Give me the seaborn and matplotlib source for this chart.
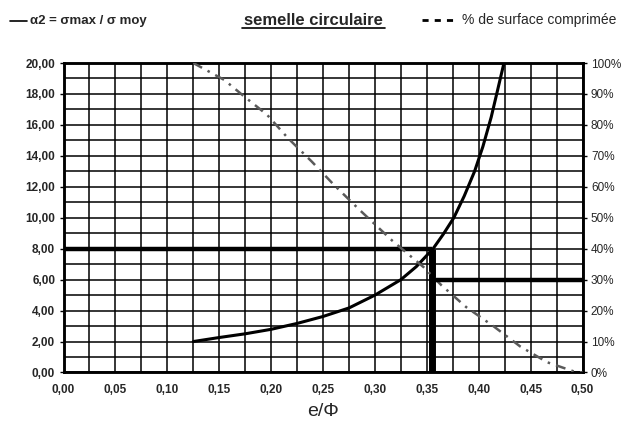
import numpy as np
import pandas as pd
import matplotlib
matplotlib.use("Agg")
import matplotlib.pyplot as plt
import seaborn as sns
from matplotlib.lines import Line2D

# ---- data ----
e_alpha = [0.125, 0.15, 0.175, 0.2, 0.225, 0.25, 0.275, 0.3, 0.325, 0.34, 0.356,
           0.366, 0.376, 0.386, 0.396, 0.404, 0.412, 0.418, 0.4243]
alpha2 = [2.0, 2.26, 2.5, 2.79, 3.17, 3.62, 4.17, 5.0, 6.0, 6.85, 8.0,
          8.95, 10.0, 11.4, 13.0, 14.6, 16.5, 18.2, 20.0]

e_pct = [0.125, 0.155, 0.174, 0.196, 0.216, 0.239, 0.260, 0.285, 0.317, 0.347,
         0.364, 0.388, 0.414, 0.440, 0.466, 0.492, 0.5]
pct_surface = [100, 94.5, 89.2, 83.3, 75.8, 68.2, 60.8, 52.6, 42.5, 34,
               28.2, 21.1, 15, 8.4, 3.3, 0.3, 0]

e_ref = 0.355
alpha_ref = 8.0
pct_ref = 30.0

x_ticks = [0.00, 0.05, 0.10, 0.15, 0.20, 0.25, 0.30, 0.35, 0.40, 0.45, 0.50]
y_ticks = [0, 2, 4, 6, 8, 10, 12, 14, 16, 18, 20]
pct_ticks = [0, 10, 20, 30, 40, 50, 60, 70, 80, 90, 100]

title = "semelle circulaire"
legend_alpha = "α2 = σmax / σ moy"
legend_pct = "% de surface comprimée"
x_label = "e/Φ"

sns.set_style("white")
plt.rcParams['font.family'] = ['Liberation Sans', 'DejaVu Sans']

fig = plt.figure(figsize=(6.27, 4.28), dpi=100)
ax = fig.add_axes([0.1013, 0.1297, 0.8278, 0.7231])

df_a = pd.DataFrame({"e": e_alpha, "a": alpha2})
df_p = pd.DataFrame({"e": e_pct, "p": pct_surface})

ax.set_xlim(0, 0.5)
ax.set_ylim(0, 20)
ax.set_xticks(np.arange(0, 0.5001, 0.025), minor=True)
ax.set_yticks(np.arange(0, 20.001, 1), minor=True)
ax.grid(which="both", color="black", linewidth=1.1)
ax.set_axisbelow(True)

sns.lineplot(data=df_a, x="e", y="a", ax=ax, color="black", linewidth=2.2, zorder=5)

# reference lines
ax.plot([0, e_ref], [alpha_ref, alpha_ref], color="black", linewidth=3.2, zorder=6, solid_capstyle="butt")
ax.plot([e_ref, e_ref], [0, alpha_ref], color="black", linewidth=5.0, zorder=6, solid_capstyle="butt")

ax2 = ax.twinx()
ax2.set_ylim(0, 100)
sns.lineplot(data=df_p, x="e", y="p", ax=ax2, color="#5a5a5a", linewidth=1.8,
             linestyle=(0, (4, 2.5, 1, 2.5)), zorder=5)
ax2.plot([e_ref, 0.5], [pct_ref, pct_ref], color="black", linewidth=3.2, zorder=6, solid_capstyle="butt")
ax2.set_xlim(0, 0.5)

ax.set_xticks(x_ticks)
ax.set_xticklabels([f"{v:.2f}".replace(".", ",") for v in x_ticks], fontsize=8.5, fontweight="bold")
ax.set_yticks(y_ticks)
ax.set_yticklabels([f"{v:.2f}".replace(".", ",") for v in y_ticks], fontsize=8.5, fontweight="bold")
ax2.set_yticks(pct_ticks)
ax2.set_yticklabels([f"{v}%" for v in pct_ticks], fontsize=8.5)
ax2.grid(False)

for a in (ax, ax2):
    for s in a.spines.values():
        s.set_linewidth(1.8)
        s.set_color("black")
ax.tick_params(axis="both", which="major", direction="out", length=3, width=1, color="black", pad=3)
ax.tick_params(axis="x", which="major", pad=5)
ax.tick_params(axis="both", which="minor", length=0)
ax2.tick_params(axis="y", direction="out", length=3, width=1, color="black", pad=3)

ax.set_xlabel(x_label, fontsize=14, labelpad=5)
ax.set_ylabel("")
ax2.set_ylabel("")

# header texts
fig.add_artist(Line2D([0.016, 0.043], [0.951, 0.951], transform=fig.transFigure, color="black", linewidth=1.2))
fig.text(0.048, 0.951, legend_alpha, fontsize=9.5, fontweight="bold", va="center", ha="left")
fig.text(0.4995, 0.953, title, fontsize=12, fontweight="bold", va="center", ha="center")
fig.add_artist(Line2D([0.386, 0.614], [0.9346, 0.9346], transform=fig.transFigure, color="black", linewidth=1.2))
fig.add_artist(Line2D([0.673, 0.731], [0.953, 0.953], transform=fig.transFigure, color="black",
                      linewidth=2.0, linestyle=(0, (2.2, 2.2))))
fig.text(0.737, 0.953, legend_pct, fontsize=10, va="center", ha="left")

fig.savefig("out.png", dpi=100)
